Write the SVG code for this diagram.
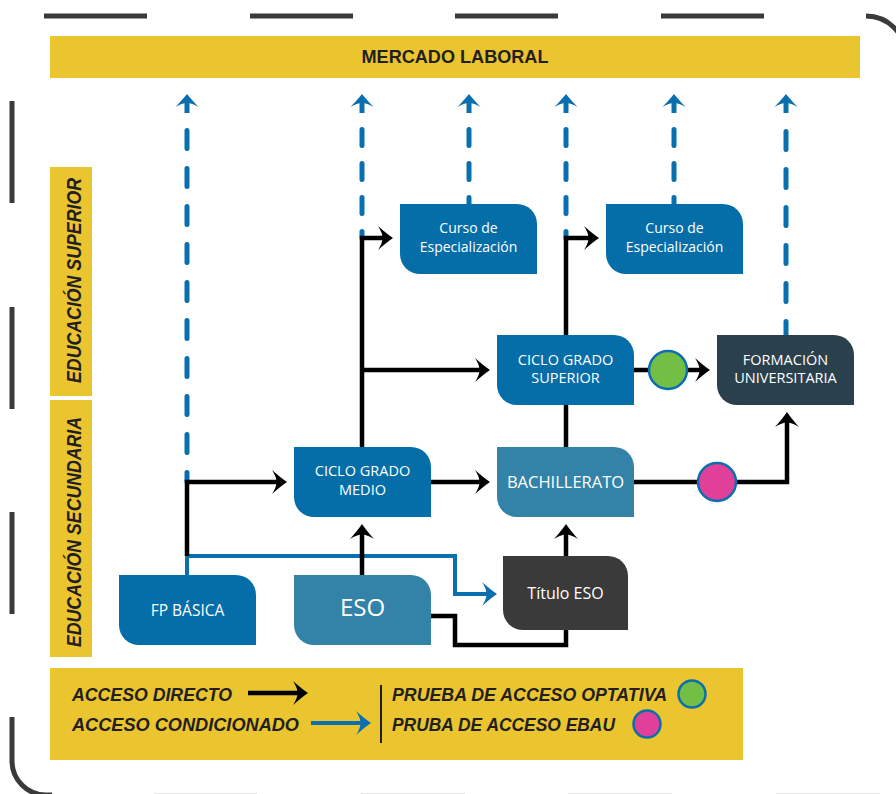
<svg xmlns="http://www.w3.org/2000/svg" width="896" height="794" viewBox="0 0 896 794">
<defs>
<style>
.frame{fill:none;stroke:#3a3a3a;stroke-width:5}
.band{fill:#EAC52F}
.hdr{font-family:"Liberation Sans",Arial,sans-serif;font-weight:700;fill:#231f20}
.it{font-style:italic}
.bb{fill:#056EA9}
.bl{fill:#3383A8}
.bd{fill:#2A404D}
.bg{fill:#3A3A3A}
.lbl{font-family:"Open Sans","Liberation Sans",sans-serif;font-weight:500;fill:#fff;text-anchor:middle}
.c{fill:none;stroke:#000;stroke-width:4.5}
.cb{fill:none;stroke:#0A6FAE;stroke-width:4}
.d{fill:none;stroke:#0A6FAE;stroke-width:5;stroke-linecap:round}
.d1{stroke-dasharray:18 20}
.d2{stroke-dasharray:16 18}
.stem{fill:none;stroke:#0A6FAE;stroke-width:5}
.opt{fill:#73BF45;stroke:#0A6FAE;stroke-width:2.5}
.ebau{fill:#E0409A;stroke:#0A6FAE;stroke-width:2.5}
</style>
<marker id="ak" viewBox="-17 -13 19 26" refX="-8" refY="0" markerWidth="19" markerHeight="26" markerUnits="userSpaceOnUse" orient="auto">
<path d="M0,0 Q-6,-4 -15,-12 Q-10.5,-5 -10.5,0 Q-10.5,5 -15,12 Q-6,4 0,0 Z" fill="#000"/>
</marker>
<marker id="abl" viewBox="-17 -13 19 26" refX="-8" refY="0" markerWidth="19" markerHeight="26" markerUnits="userSpaceOnUse" orient="auto">
<path d="M0,0 Q-6,-4 -15,-12 Q-10.5,-5 -10.5,0 Q-10.5,5 -15,12 Q-6,4 0,0 Z" fill="#0A6FAE"/>
</marker>
<marker id="ad" viewBox="-16 -13 18 26" refX="-9" refY="0" markerWidth="18" markerHeight="26" markerUnits="userSpaceOnUse" orient="auto">
<path d="M0,0 Q-5,-4 -13,-11.5 Q-9,-5 -9,0 Q-9,5 -13,11.5 Q-5,4 0,0 Z" fill="#0A6FAE"/>
</marker>
</defs>

<g id="frame" class="frame">
<path d="M44,16 H147 M250,16 H353 M455,16 H558 M661,16 H764"/>
<path d="M866,16 A40,40 0 0 1 906,56"/>
<path d="M12,101 V203 M12,307 V409 M12,512 V614"/>
<path d="M12,717 V761 A34,34 0 0 0 46,795 H52"/>
<path d="M154,793.5 H257 M361,793.5 H465 M568,793.5 H672 M776,793.5 H880" stroke="#e6e6e6" stroke-width="1"/>
</g>

<g id="mercado-laboral">
<rect class="band" x="50" y="36" width="810" height="42"/>
<text class="hdr" x="455" y="63" font-size="19" text-anchor="middle" textLength="187" lengthAdjust="spacingAndGlyphs">MERCADO LABORAL</text>
</g>

<g id="educacion-superior">
<rect class="band" x="50" y="167" width="42" height="229"/>
<text class="hdr it" transform="translate(81,280.5) rotate(-90)" font-size="19.5" text-anchor="middle" textLength="205" lengthAdjust="spacingAndGlyphs">EDUCACIÓN SUPERIOR</text>
</g>
<g id="educacion-secundaria">
<rect class="band" x="50" y="400" width="42" height="257"/>
<text class="hdr it" transform="translate(81,532) rotate(-90)" font-size="19.5" text-anchor="middle" textLength="230" lengthAdjust="spacingAndGlyphs">EDUCACIÓN SECUNDARIA</text>
</g>

<g id="connectors">
<g id="dashed">
<path class="d d1" d="M187,130.5 V482"/>
<path class="d d2" d="M362,129.5 V238"/>
<path class="d d2" d="M469,129.5 V204"/>
<path class="d d2" d="M566,129.5 V238"/>
<path class="d d2" d="M674,129.5 V204"/>
<path class="d d1" d="M786,131.5 V335"/>
<path class="stem" d="M187,113 V103" marker-end="url(#ad)"/>
<path class="stem" d="M362,113 V103" marker-end="url(#ad)"/>
<path class="stem" d="M469,113 V103" marker-end="url(#ad)"/>
<path class="stem" d="M566,113 V103" marker-end="url(#ad)"/>
<path class="stem" d="M674,113 V103" marker-end="url(#ad)"/>
<path class="stem" d="M786,113 V103" marker-end="url(#ad)"/>
</g>
<path class="cb" d="M187,575 V556 H455 V594 H489" marker-end="url(#abl)"/>
<path class="c" d="M187,556 V482 H279" marker-end="url(#ak)"/>
<path class="c" d="M362,575 V532" marker-end="url(#ak)"/>
<path class="c" d="M431,616 H455 V645 H566 V630"/>
<path class="c" d="M566,556 V532" marker-end="url(#ak)"/>
<path class="c" d="M431,482 H482" marker-end="url(#ak)"/>
<path class="c" d="M362,447 V238 H385" marker-end="url(#ak)"/>
<path class="c" d="M362,370 H482" marker-end="url(#ak)"/>
<path class="c" d="M566,447 V405"/>
<path class="c" d="M566,335 V238 H591" marker-end="url(#ak)"/>
<path class="c" d="M634,370 H702" marker-end="url(#ak)"/>
<path class="c" d="M634,482 H787 V420" marker-end="url(#ak)"/>
<circle class="opt" cx="668" cy="370" r="19"/>
<circle class="ebau" cx="717" cy="482" r="19"/>
</g>

<g id="curso-especializacion-1">
<path class="bb" d="M400,204 H517 A20,20 0 0 1 537,224 V274 H420 A20,20 0 0 1 400,254 Z"/>
<text class="lbl" x="468.5" y="233" font-size="14">Curso de</text>
<text class="lbl" x="468.5" y="252" font-size="14">Especialización</text>
</g>
<g id="curso-especializacion-2">
<path class="bb" d="M606,204 H723 A20,20 0 0 1 743,224 V274 H626 A20,20 0 0 1 606,254 Z"/>
<text class="lbl" x="674.5" y="233" font-size="14">Curso de</text>
<text class="lbl" x="674.5" y="252" font-size="14">Especialización</text>
</g>
<g id="ciclo-grado-superior">
<path class="bb" d="M497,335 H614 A20,20 0 0 1 634,355 V405 H517 A20,20 0 0 1 497,385 Z"/>
<text class="lbl" x="565.5" y="365" font-size="14.5">CICLO GRADO</text>
<text class="lbl" x="565.5" y="383" font-size="14.5">SUPERIOR</text>
</g>
<g id="formacion-universitaria">
<path class="bd" d="M717,335 H834 A20,20 0 0 1 854,355 V405 H737 A20,20 0 0 1 717,385 Z"/>
<text class="lbl" x="785.5" y="365" font-size="14.5">FORMACIÓN</text>
<text class="lbl" x="785.5" y="383" font-size="14.5">UNIVERSITARIA</text>
</g>
<g id="ciclo-grado-medio">
<path class="bb" d="M294,447 H411 A20,20 0 0 1 431,467 V517 H314 A20,20 0 0 1 294,497 Z"/>
<text class="lbl" x="362.5" y="476" font-size="14.5">CICLO GRADO</text>
<text class="lbl" x="362.5" y="495" font-size="14.5">MEDIO</text>
</g>
<g id="bachillerato">
<path class="bl" d="M497,447 H614 A20,20 0 0 1 634,467 V517 H517 A20,20 0 0 1 497,497 Z"/>
<text class="lbl" x="565.5" y="488" font-size="16.5">BACHILLERATO</text>
</g>
<g id="fp-basica">
<path class="bb" d="M119,575 H236 A20,20 0 0 1 256,595 V645 H139 A20,20 0 0 1 119,625 Z"/>
<text class="lbl" x="187.5" y="616" font-size="15.5">FP BÁSICA</text>
</g>
<g id="eso">
<path class="bl" d="M294,575 H411 A20,20 0 0 1 431,595 V645 H314 A20,20 0 0 1 294,625 Z"/>
<text class="lbl" x="362.5" y="616" font-size="24">ESO</text>
</g>
<g id="titulo-eso">
<path class="bg" d="M503,556 H608 A20,20 0 0 1 628,576 V630 H523 A20,20 0 0 1 503,610 Z"/>
<text class="lbl" x="565.5" y="599" font-size="16">Título ESO</text>
</g>

<g id="legend">
<rect class="band" x="50" y="668" width="693" height="92"/>
<text class="hdr it" x="72" y="701" font-size="19" textLength="160" lengthAdjust="spacingAndGlyphs">ACCESO DIRECTO</text>
<text class="hdr it" x="72" y="731" font-size="19" textLength="227" lengthAdjust="spacingAndGlyphs">ACCESO CONDICIONADO</text>
<path class="c" d="M248,693 H300" stroke-width="5" marker-end="url(#ak)"/>
<path class="cb" d="M311,723 H363" stroke-width="5" marker-end="url(#abl)"/>
<path d="M381,685 V743" stroke="#231f20" stroke-width="2"/>
<text class="hdr it" x="392" y="701" font-size="19" textLength="275" lengthAdjust="spacingAndGlyphs">PRUEBA DE ACCESO OPTATIVA</text>
<text class="hdr it" x="392" y="731" font-size="19" textLength="223" lengthAdjust="spacingAndGlyphs">PRUBA DE ACCESO EBAU</text>
<circle class="opt" cx="692" cy="694" r="13.5"/>
<circle class="ebau" cx="647" cy="724" r="13.5"/>
</g>
</svg>
